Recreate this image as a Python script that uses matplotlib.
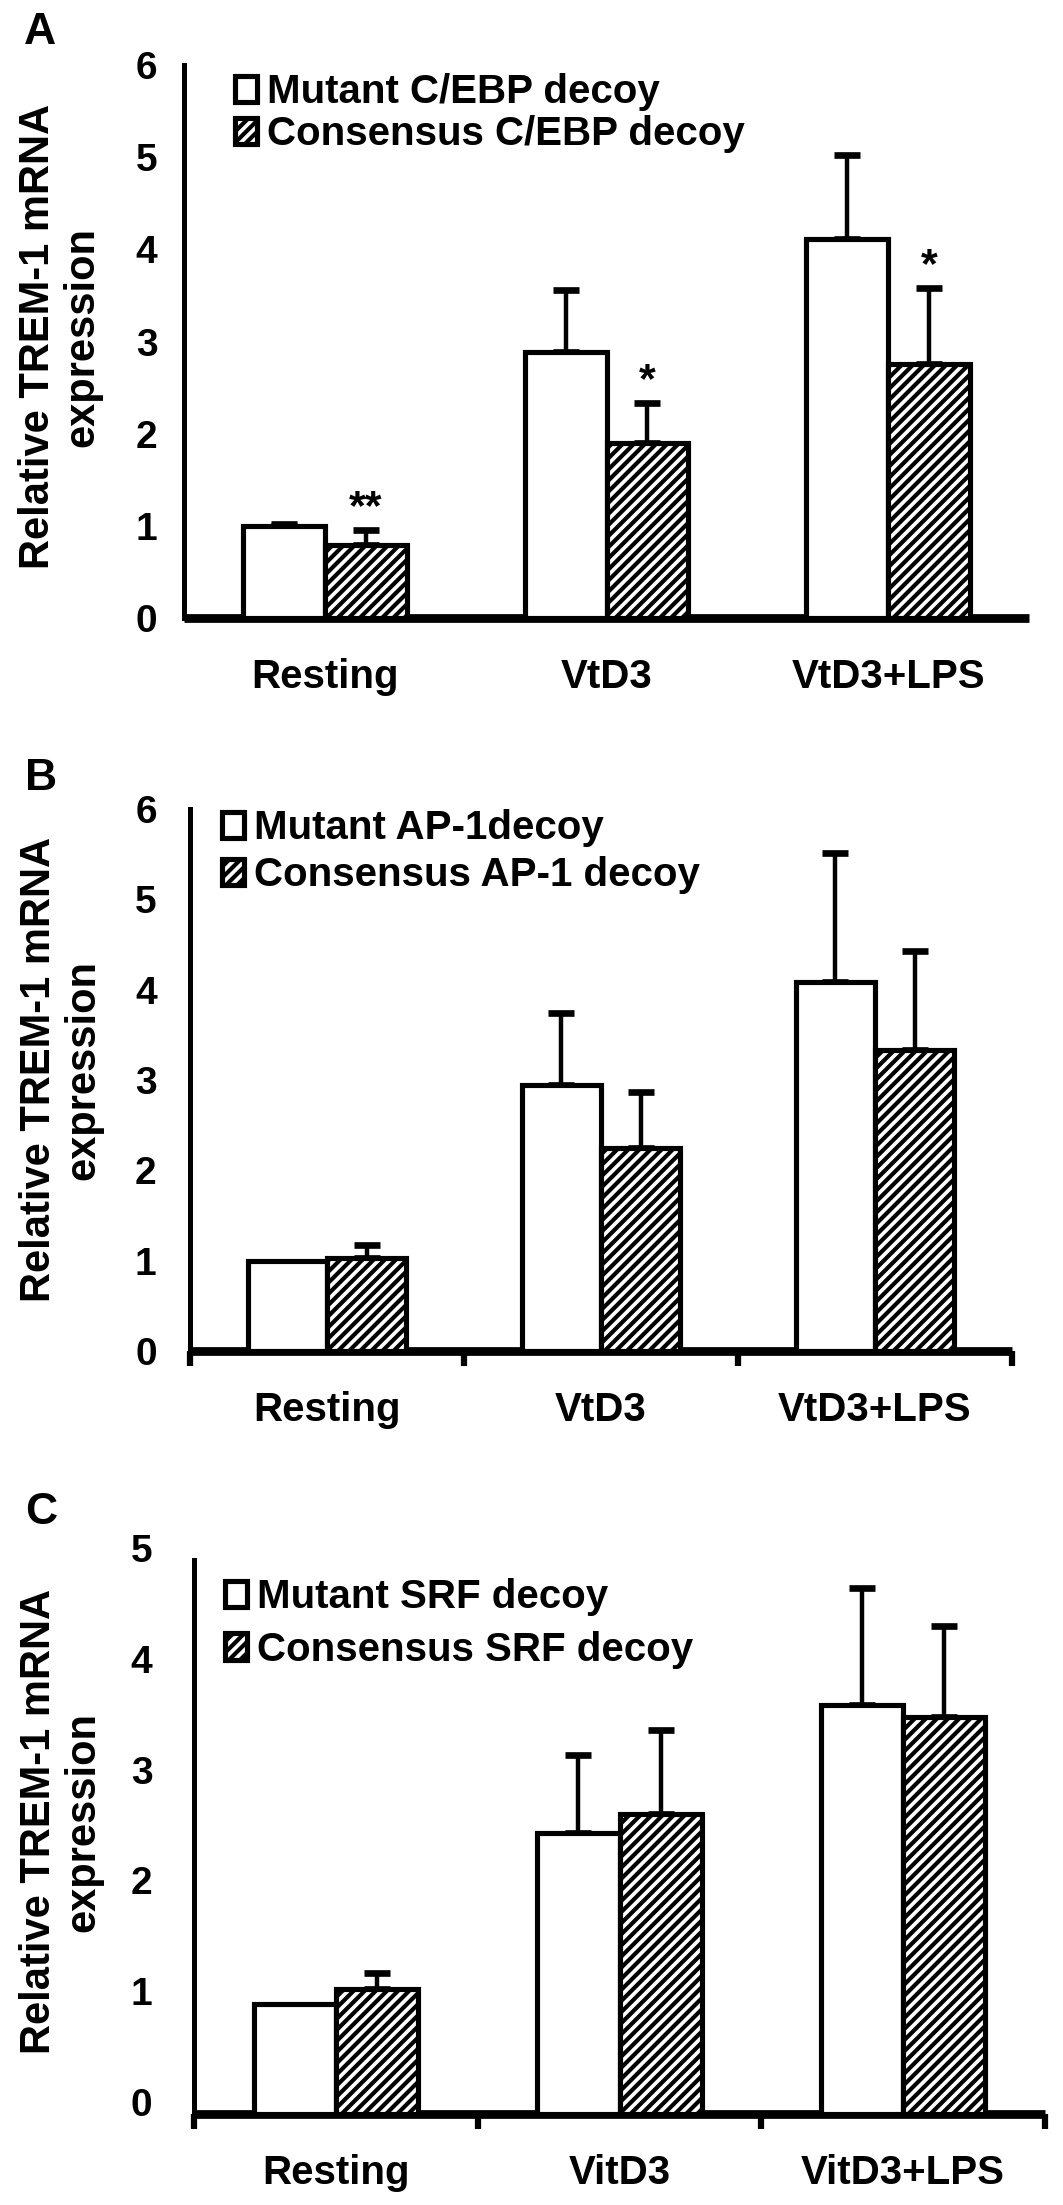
import matplotlib
matplotlib.use("Agg")
import matplotlib.pyplot as plt
import matplotlib.transforms as mtransforms
import numpy as np

# ---------------- data ----------------
categories_ab = ["Resting", "VtD3", "VtD3+LPS"]
categories_c = ["Resting", "VitD3", "VitD3+LPS"]

a_mutant = [1.00, 2.89, 4.11]
a_mutant_err = [0.02, 0.67, 0.91]
a_consensus = [0.79, 1.90, 2.76]
a_consensus_err = [0.16, 0.43, 0.82]
a_stars = ["**", "*", "*"]
a_labels = ["Mutant C/EBP decoy", "Consensus C/EBP decoy"]

b_mutant = [1.00, 2.95, 4.09]
b_mutant_err = [0.00, 0.79, 1.42]
b_consensus = [1.03, 2.25, 3.33]
b_consensus_err = [0.14, 0.62, 1.10]
b_labels = ["Mutant AP-1decoy", "Consensus AP-1 decoy"]

c_mutant = [0.99, 2.54, 3.69]
c_mutant_err = [0.00, 0.70, 1.06]
c_consensus = [1.13, 2.71, 3.58]
c_consensus_err = [0.14, 0.76, 0.82]
c_labels = ["Mutant SRF decoy", "Consensus SRF decoy"]

ylabel_text = "Relative TREM-1 mRNA\nexpression"

# ---------------- layout ----------------
W, H = 1063, 2205
DPI = 100
HATCH_LW = 3.0

plt.rcParams['font.family'] = ['Liberation Sans', 'DejaVu Sans']
plt.rcParams['font.weight'] = 'bold'
plt.rcParams['hatch.color'] = 'black'

fig = plt.figure(figsize=(W / DPI, H / DPI), dpi=DPI)


def px_rect(left, right, top, bottom):
    return [left / W, 1 - bottom / H, (right - left) / W, (bottom - top) / H]


BAR_W = 0.29


def draw_panel(rect, cats, mut, mut_err, con, con_err, labels, ymax,
               xticks_marks, ypad, yshift, leg_anchor, leg_spacing, stars=None):
    ax = fig.add_axes(rect)
    x = np.arange(len(cats))
    ax.bar(x - BAR_W / 2, mut, BAR_W, facecolor='white', edgecolor='black',
           linewidth=3.7, label=labels[0], zorder=3)
    hb = ax.bar(x + BAR_W / 2, con, BAR_W, facecolor='white', edgecolor='black',
                hatch='///', linewidth=3.7, label=labels[1], zorder=3)
    for p in hb:
        p.set_hatch_linewidth(HATCH_LW)
    for xs, vals, errs in ((x - BAR_W / 2, mut, mut_err), (x + BAR_W / 2, con, con_err)):
        vals = np.asarray(vals)
        errs = np.asarray(errs)
        m = errs > 0
        if m.any():
            ax.errorbar(xs[m], vals[m], yerr=[np.zeros(m.sum()), errs[m]], fmt='none',
                        ecolor='black', elinewidth=3.2, capsize=9.5,
                        capthick=4.8, zorder=2)
    if stars is not None:
        for xi, v, e, s in zip(x + BAR_W / 2, con, con_err, stars):
            ax.annotate(s, (xi, v + e), xytext=(0, 16), textcoords='offset points',
                        ha='center', va='center', fontsize=31, fontweight='bold')

    ax.set_xlim(-0.5, len(cats) - 0.5)
    ax.set_ylim(0, ymax)
    for s in ('top', 'right'):
        ax.spines[s].set_visible(False)
    ax.spines['left'].set_linewidth(3.6)
    ax.spines['bottom'].set_linewidth(6.3)
    ax.spines['bottom'].set_capstyle('butt')

    ax.set_yticks(range(ymax + 1))
    ax.tick_params(axis='y', length=0, pad=ypad, labelsize=28)

    ax.set_xticks(np.arange(len(cats) + 1) - 0.5)
    ax.set_xticklabels([])
    if xticks_marks:
        ax.tick_params(axis='x', which='major', length=11, width=4.5, direction='out')
    else:
        ax.tick_params(axis='x', which='major', length=0)
    ax.set_xticks(x, minor=True)
    ax.set_xticklabels(cats, minor=True)
    ax.tick_params(axis='x', which='minor', length=0, pad=29, labelsize=29)

    if yshift:
        off = mtransforms.ScaledTranslation(0, yshift / DPI, fig.dpi_scale_trans)
        for lab in ax.get_yticklabels():
            lab.set_transform(lab.get_transform() + off)

    leg = ax.legend(loc='upper left', bbox_to_anchor=leg_anchor, frameon=False, fontsize=29,
                    handlelength=0.55, handleheight=0.62, handletextpad=0.25,
                    labelspacing=leg_spacing, borderpad=0, borderaxespad=0)
    leg.legend_handles[1].set_hatch_linewidth(HATCH_LW)
    return ax


axA = draw_panel(px_rect(184, 1029, 65, 618), categories_ab, a_mutant, a_mutant_err,
                 a_consensus, a_consensus_err, a_labels, 6, False, 19, 0,
                 (0.060, 0.985), 0.1, stars=a_stars)
axB = draw_panel(px_rect(190, 1012, 809, 1351), categories_ab, b_mutant, b_mutant_err,
                 b_consensus, b_consensus_err, b_labels, 6, True, 24, 0,
                 (0.039, 1.0), 0.22)
axC = draw_panel(px_rect(194, 1045, 1560, 2114), categories_c, c_mutant, c_mutant_err,
                 c_consensus, c_consensus_err, c_labels, 5, True, 30, 12,
                 (0.036, 0.968), 0.37)

for letter, (lx, ly) in zip("ABC", [(40, 33), (41, 779), (41, 1513)]):
    fig.text(lx / W, 1 - ly / H, letter, fontsize=32, fontweight='bold',
             ha='center', va='center')

for (tx, ty) in [(60, 337), (61, 1070), (61, 1822)]:
    fig.text(tx / W, 1 - ty / H, ylabel_text, rotation=90, ha='center', va='center',
             multialignment='center', fontsize=30, fontweight='bold', linespacing=1.15)

fig.savefig("out.png", dpi=DPI, facecolor='white')
